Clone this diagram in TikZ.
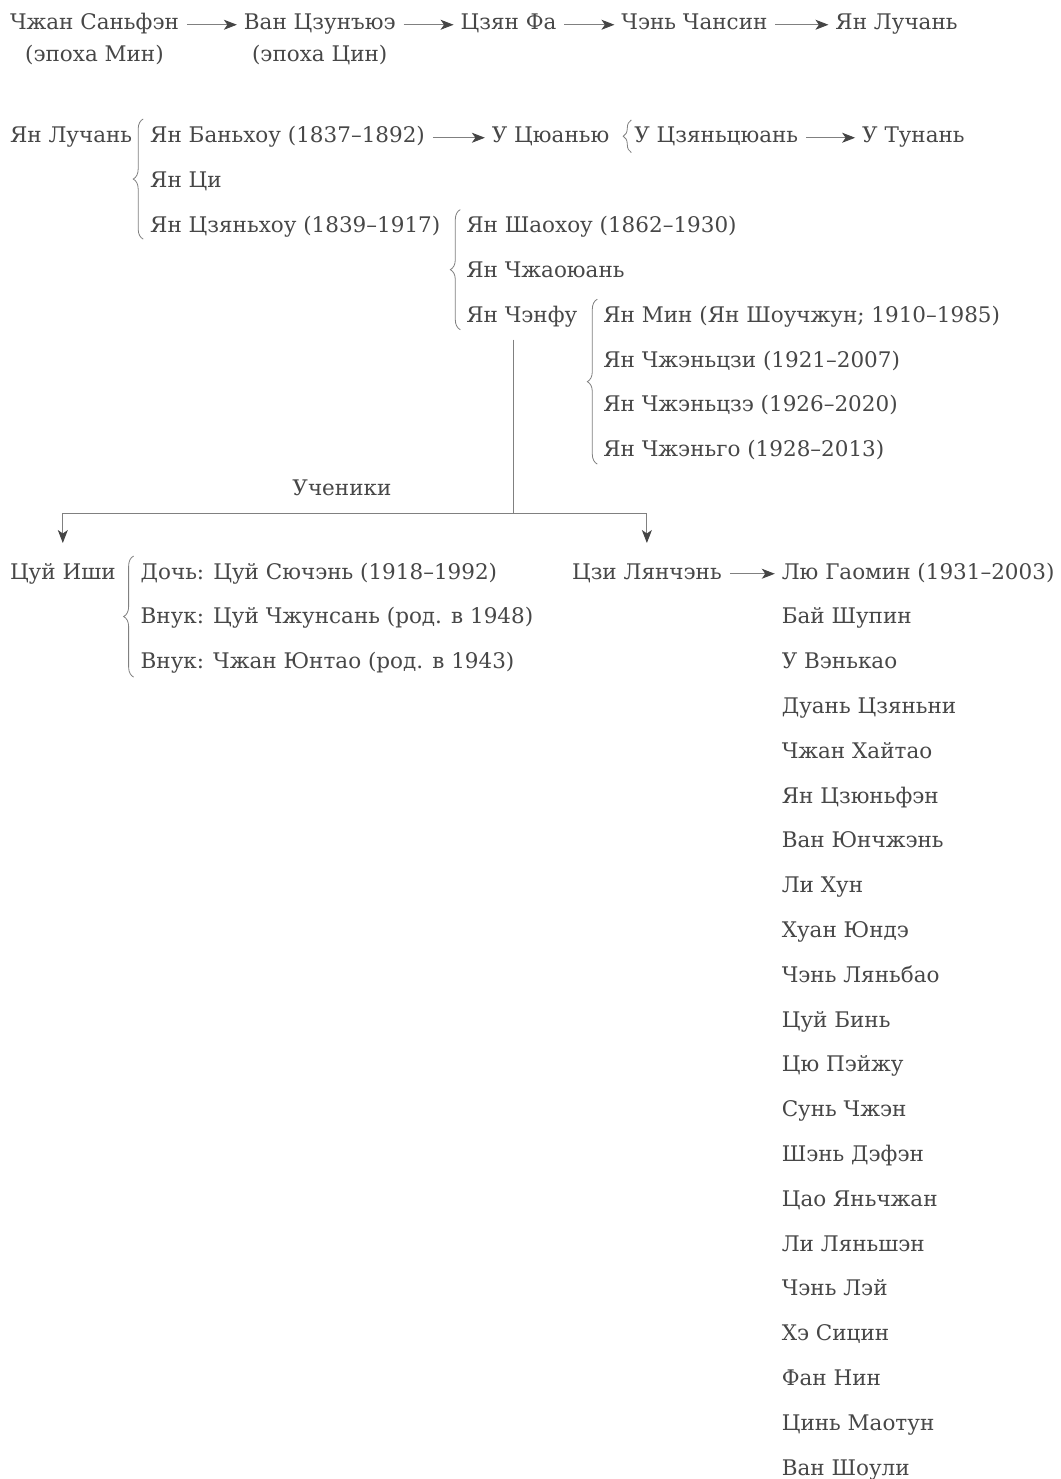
\documentclass[tikz,border=0pt]{standalone}
\usepackage{fontspec}
\setmainfont{DejaVu Serif}
\usetikzlibrary{arrows.meta,calc,decorations.pathreplacing,positioning}
\definecolor{ink}{HTML}{474747}
\definecolor{line}{HTML}{808080}
\definecolor{tip}{HTML}{454545}
\definecolor{paper}{HTML}{FFFFFF}
\tikzset{
  person/.style={
    inner sep=0pt,
    outer sep=0pt,
    text=ink,
    text height=15pt,
    text depth=4.5pt,
    anchor=base west,
    font=\fontsize{21.5}{25}\selectfont
  },
  nextrow/.style={
    below=25.3pt of #1.south west,
    anchor=north west
  },
  flow/.style={
    -{Stealth[length=13pt,width=10pt,inset=3.5pt,color=tip]},
    draw=line,
    line width=0.9pt,
    shorten <=8pt,
    shorten >=7pt
  },
  drop/.style={
    flow,
    shorten <=0pt,
    shorten >=21pt
  },
  stem/.style={
    draw=line,
    line width=0.9pt
  },
  bracket/.style={
    draw=line,
    line width=0.8pt,
    decorate,
    decoration={brace, amplitude=#1, aspect=0.5}
  },
  bracket/.default=10pt
}

\begin{document}
\begin{tikzpicture}[x=1pt, y=-1pt]
  \path[use as bounding box, fill=paper] (0,0) rectangle (1060,1479);

  % line of transmission
  \node[person] (sanfeng) at (10,30) {Чжан Саньфэн};
  \node[person, right=65pt of sanfeng] (zongyue) {Ван Цзунъюэ};
  \node[person, right=65pt of zongyue] (jiangfa) {Цзян Фа};
  \node[person, right=65pt of jiangfa] (changxing) {Чэнь Чансин};
  \node[person, right=68pt of changxing] (luchan) {Ян Лучань};
  \node[person, below=12.5pt of sanfeng] (ming) {(эпоха Мин)};
  \node[person, below=12.5pt of zongyue] (qing) {(эпоха Цин)};
  \draw[flow] (sanfeng) -- (zongyue);
  \draw[flow] (zongyue) -- (jiangfa);
  \draw[flow] (jiangfa) -- (changxing);
  \draw[flow] (changxing) -- (luchan);

  % family of Yang Luchan
  \node[person] (luchan2) at (10,143) {Ян Лучань};
  \node[person, right=18pt of luchan2] (banhou) {Ян Баньхоу (1837–1892)};
  \node[person, nextrow=banhou] (qi) {Ян Ци};
  \node[person, nextrow=qi] (jianhou) {Ян Цзяньхоу (1839–1917)};
  \draw[bracket] ($(jianhou.south west)+(-7,2)$) -- ($(banhou.north west)+(-7,-9)$);

  \node[person, right=67pt of banhou] (quanyou) {У Цюанью};
  \node[person, right=25pt of quanyou] (jianquan) {У Цзяньцюань};
  \node[person, right=64pt of jianquan] (tunan) {У Тунань};
  \draw[flow] (banhou) -- (quanyou);
  \draw[bracket=8pt] ($(jianquan.south west)+(-3,5)$) -- ($(jianquan.north west)+(-3,-8)$);
  \draw[flow] (jianquan) -- (tunan);

  \node[person, right=26pt of jianhou] (shaohou) {Ян Шаохоу (1862–1930)};
  \node[person, nextrow=shaohou] (zhaoyuan) {Ян Чжаоюань};
  \node[person, nextrow=zhaoyuan] (chengfu) {Ян Чэнфу};
  \draw[bracket] ($(chengfu.south west)+(-6,3)$) -- ($(shaohou.north west)+(-6,-8)$);

  \node[person, right=26pt of chengfu] (shouzhong) {Ян Мин (Ян Шоучжун; 1910–1985)};
  \node[person, nextrow=shouzhong] (zhenji) {Ян Чжэньцзи (1921–2007)};
  \node[person, nextrow=zhenji] (zhenze) {Ян Чжэньцзэ (1926–2020)};
  \node[person, nextrow=zhenze] (zhenguo) {Ян Чжэньго (1928–2013)};
  \draw[bracket] ($(zhenguo.south west)+(-6,3)$) -- ($(shouzhong.north west)+(-6,-8)$);

  % pupils of Yang Chengfu
  \node[person] (yishi) at (10,579) {Цуй Иши};
  \node[person, right=25pt of yishi] (xiuchen) {Дочь: Цуй Сючэнь (1918–1992)};
  \node[person, nextrow=xiuchen] (zhongsan) {Внук: Цуй Чжунсань (род. в 1948)};
  \node[person, nextrow=zhongsan] (yongtao) {Внук: Чжан Юнтао (род. в 1943)};
  \draw[bracket] ($(yongtao.south west)+(-7,4)$) -- ($(xiuchen.north west)+(-7,-8)$);

  \node[person] (lianchen) at (572,579) {Цзи Лянчэнь};
  \node[person, right=60pt of lianchen] (gaoming) {Лю Гаомин (1931–2003)};
  \draw[flow] (lianchen) -- (gaoming);
  \node[person, nextrow=gaoming] (shupin) {Бай Шупин};
  \node[person, nextrow=shupin] (wenkao) {У Вэнькао};
  \node[person, nextrow=wenkao] (jianni) {Дуань Цзяньни};
  \node[person, nextrow=jianni] (haitao) {Чжан Хайтао};
  \node[person, nextrow=haitao] (junfeng) {Ян Цзюньфэн};
  \node[person, nextrow=junfeng] (yongzhen) {Ван Юнчжэнь};
  \node[person, nextrow=yongzhen] (lihong) {Ли Хун};
  \node[person, nextrow=lihong] (yongde) {Хуан Юндэ};
  \node[person, nextrow=yongde] (lianbao) {Чэнь Ляньбао};
  \node[person, nextrow=lianbao] (cuibin) {Цуй Бинь};
  \node[person, nextrow=cuibin] (peiru) {Цю Пэйжу};
  \node[person, nextrow=peiru] (sunzheng) {Сунь Чжэн};
  \node[person, nextrow=sunzheng] (defeng) {Шэнь Дэфэн};
  \node[person, nextrow=defeng] (yanzhang) {Цао Яньчжан};
  \node[person, nextrow=yanzhang] (liansheng) {Ли Ляньшэн};
  \node[person, nextrow=liansheng] (chenlei) {Чэнь Лэй};
  \node[person, nextrow=chenlei] (xiqing) {Хэ Сицин};
  \node[person, nextrow=xiqing] (fangning) {Фан Нин};
  \node[person, nextrow=fangning] (maotong) {Цинь Маотун};
  \node[person, nextrow=maotong] (shouli) {Ван Шоули};

  \coordinate (split) at (513,513);
  \draw[stem, shorten <=13pt] (chengfu.south -| split) -- (split);
  \draw[drop] (split) -| node[person, pos=0.19, above=13pt] (pupils) {Ученики} (yishi.north);
  \draw[drop] (split) -| (lianchen.north);
\end{tikzpicture}
\end{document}
